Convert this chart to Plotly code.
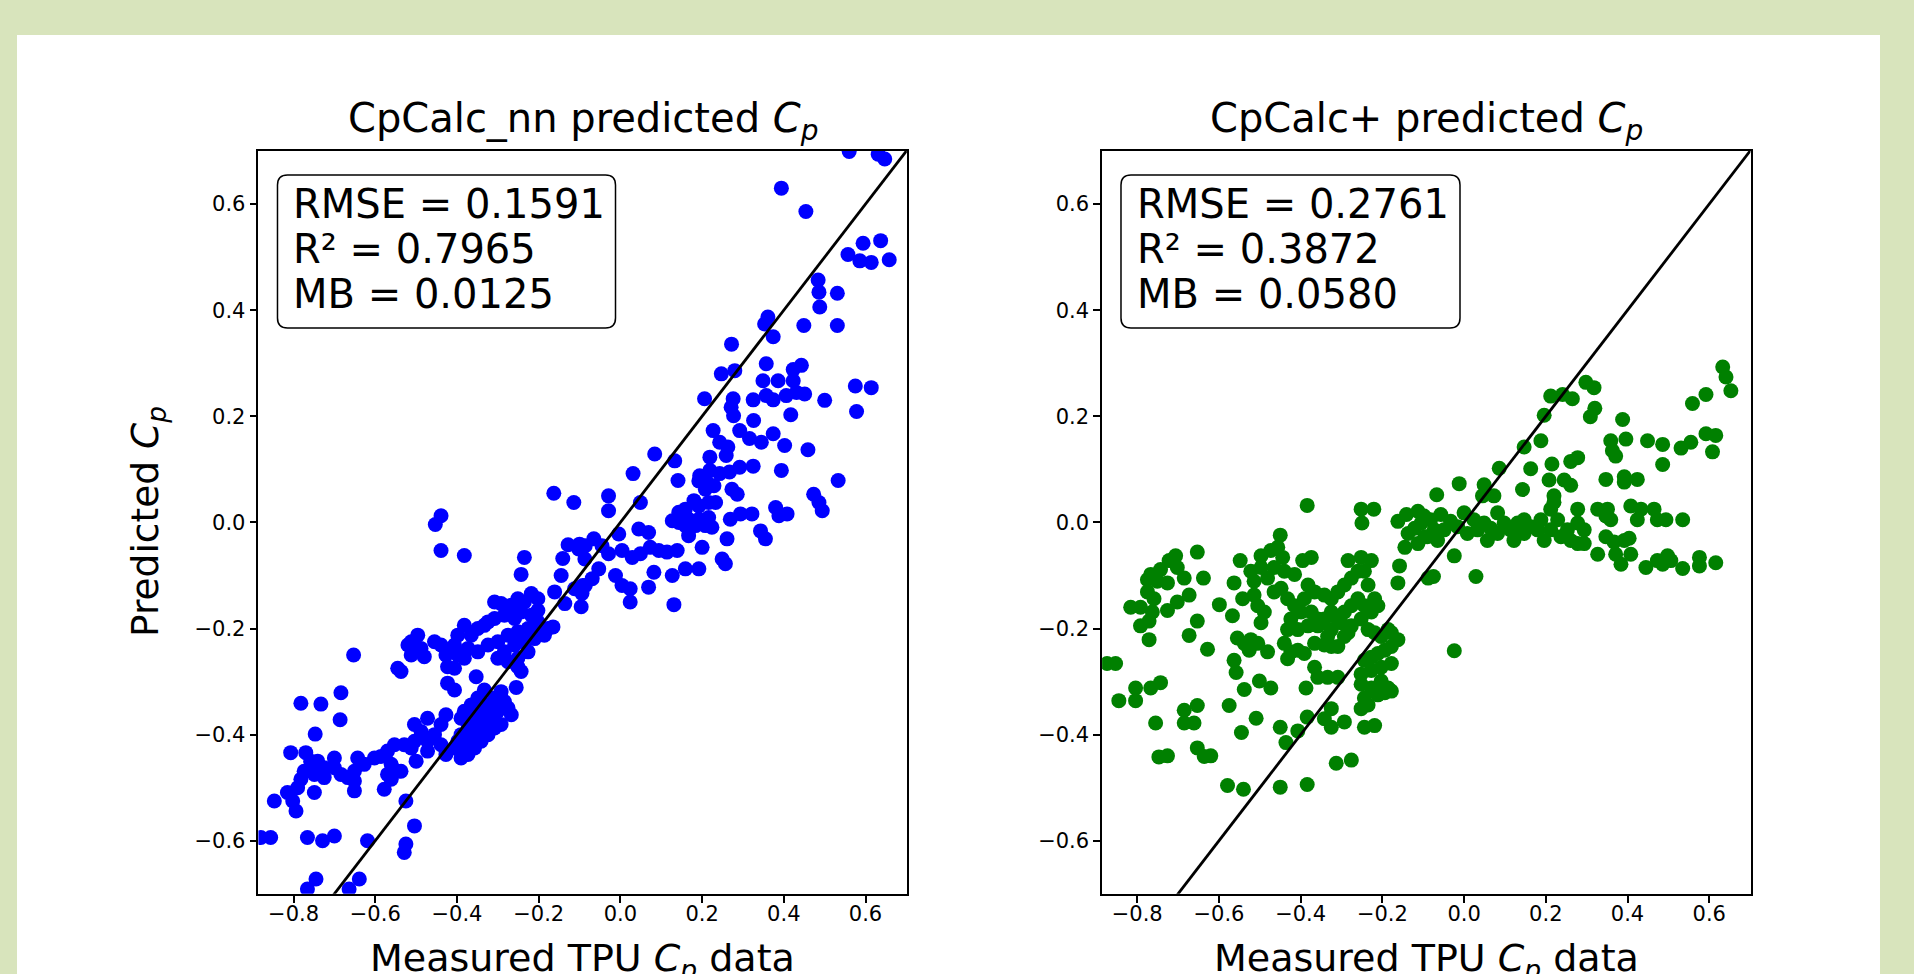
import plotly.graph_objects as go

# ---------------- data ----------------
nn_measured = [
    -0.163, -0.114, -0.439, -0.453, -0.439, -0.382, -0.235, -0.243, -0.128, -0.100, -0.141, -0.145, -0.087, -0.112,
    -0.092, -0.161, -0.136, -0.096, -0.218, -0.202, -0.235, -0.251, -0.267, -0.292, -0.308, -0.202, -0.218, -0.243,
    -0.259, -0.284, -0.308, -0.324, -0.333, -0.349, -0.365, -0.382, -0.398, -0.406, -0.373, -0.349, -0.324, -0.300,
    -0.275, -0.251, -0.226, -0.202, -0.194, -0.210, -0.235, -0.259, -0.284, -0.300, -0.275, -0.251, -0.226, -0.177,
    -0.165, -0.186, -0.496, -0.512, -0.520, -0.512, -0.488, -0.480, -0.455, -0.439, -0.427, -0.414, -0.398, -0.382,
    -0.423, -0.406, -0.653, -0.545, -0.537, -0.353, -0.243, -0.251, -0.423, -0.406, -0.255, -0.333, -0.349, -0.365,
    -0.382, -0.390, -0.373, -0.357, -0.341, -0.324, -0.308, -0.292, -0.284, -0.300, -0.316, -0.333, -0.349, -0.365,
    -0.382, -0.373, -0.357, -0.341, -0.324, -0.308, -0.292, -0.267, -0.275, -0.390, -0.398, -0.406, -0.390, -0.427,
    -0.427, -0.439, -0.472, -0.504, -0.488, -0.472, -0.455, -0.439, -0.504, -0.512, -0.529, -0.553, -0.570, -0.586,
    -0.602, -0.561, -0.545, -0.570, -0.561, -0.537, -0.500, -0.472, -0.782, -0.733, -0.684, -0.686, -0.747, -0.807,
    -0.770, -0.758, -0.774, -0.741, -0.725, -0.700, -0.700, -0.684, -0.667, -0.651, -0.643, -0.627, -0.651, -0.651,
    -0.725, -0.749, -0.782, -0.790, -0.815, -0.847, -0.802, -0.794, -0.749, -0.578, -0.525, -0.504, -0.525, -0.529,
    -0.880, -0.856, -0.766, -0.729, -0.700, -0.619, -0.745, -0.766, -0.639, -0.664,
    0.192, 0.212, 0.229, 0.208, 0.273, 0.286, 0.473, 0.486, 0.494, 0.380, 0.388, 0.408, 0.322, 0.294,
    0.269, 0.261, 0.343, 0.355, 0.200, 0.249, 0.257, 0.143, 0.127, 0.159, 0.180, 0.192, 0.216, 0.233,
    0.167, 0.192, 0.216, 0.208, 0.224, 0.184, 0.159, 0.167, 0.143, -0.029, -0.029, 0.049, 0.045, 0.069,
    -0.004, -0.065, -0.045, -0.086, -0.102, -0.029, 0.004, 0.029, 0.049, 0.073, 0.094, 0.114, 0.139, 0.082,
    0.127, 0.159, 0.192, -0.053, -0.069, -0.086, -0.094, -0.012, 0.004, 0.024, 0.024, 0.069, 0.131,
    0.560, 0.631, 0.647, 0.394, 0.454, 0.594, 0.637, 0.557, 0.586, 0.614, 0.658, 0.484, 0.486, 0.488,
    0.531, 0.361, 0.353, 0.374, 0.449, 0.531, 0.272, 0.247, 0.280, 0.357, 0.423, 0.443, 0.349, 0.386,
    0.423, 0.206, 0.276, 0.271, 0.277, 0.325, 0.357, 0.374, 0.406, 0.431, 0.451, 0.500, 0.575, 0.614,
    0.578, 0.417, 0.326, 0.227, 0.292, 0.316, 0.345, 0.374, 0.402, 0.459, 0.243, 0.263, 0.219, 0.259,
    0.084, 0.133, 0.031, 0.141, 0.194, 0.219, 0.243, 0.267, 0.292, 0.325, 0.394, 0.533,
]
nn_predicted = [
    0.055, 0.0375, 0.0125, -0.004, -0.053, -0.0625, -0.066, -0.098, -0.042, -0.041, -0.068, -0.100, -0.069, -0.125,
    -0.119, -0.131, -0.153, -0.159, -0.134, -0.144, -0.150, -0.144, -0.156, -0.153, -0.150, -0.166, -0.175, -0.169,
    -0.181, -0.175, -0.181, -0.1875, -0.194, -0.200, -0.2125, -0.194, -0.2125, -0.231, -0.2375, -0.244, -0.231, -0.225,
    -0.2125, -0.206, -0.200, -0.1875, -0.206, -0.219, -0.225, -0.231, -0.244, -0.256, -0.2625, -0.256, -0.244, -0.200,
    -0.197, -0.2125, -0.2125, -0.225, -0.231, -0.250, -0.2375, -0.253, -0.225, -0.231, -0.250, -0.244, -0.250, -0.256,
    -0.272, -0.275, -0.250, -0.275, -0.281, -0.291, -0.281, -0.272, -0.303, -0.316, -0.311, -0.316, -0.331, -0.344,
    -0.356, -0.369, -0.381, -0.369, -0.356, -0.344, -0.331, -0.319, -0.3375, -0.356, -0.369, -0.381, -0.394, -0.406,
    -0.419, -0.4375, -0.425, -0.4125, -0.400, -0.3875, -0.381, -0.3625, -0.350, -0.400, -0.4125, -0.425, -0.444, -0.4375,
    -0.3625, -0.381, -0.369, -0.381, -0.394, -0.4125, -0.400, -0.419, -0.4125, -0.425, -0.419, -0.419, -0.431, -0.441,
    -0.444, -0.456, -0.469, -0.475, -0.484, -0.469, -0.450, -0.431, -0.341, -0.3425, -0.321, -0.372, -0.399, -0.434,
    -0.434, -0.450, -0.469, -0.450, -0.4625, -0.444, -0.4625, -0.475, -0.481, -0.469, -0.444, -0.456, -0.4875, -0.506,
    -0.481, -0.475, -0.484, -0.500, -0.509, -0.525, -0.525, -0.544, -0.509, -0.503, -0.525, -0.572, -0.606, -0.622,
    -0.594, -0.594, -0.594, -0.600, -0.591, -0.600, -0.672, -0.691, -0.672, -0.691,
    0.078, 0.075, 0.069, 0.0625, 0.0625, 0.053, 0.053, 0.0375, 0.022, 0.028, 0.0125, 0.016, 0.016, 0.016,
    0.006, -0.031, -0.016, -0.031, -0.047, -0.069, -0.078, 0.019, 0.003, 0.025, 0.041, 0.031, 0.0375, 0.0375,
    0.006, 0.006, 0.009, -0.006, -0.009, -0.006, -0.006, -0.025, 0.000, 0.050, 0.022, 0.0375, -0.0125, -0.019,
    -0.022, -0.031, -0.044, -0.044, -0.050, -0.059, -0.053, -0.066, -0.059, -0.047, -0.053, -0.056, -0.053, -0.094,
    -0.100, -0.0875, -0.0875, -0.0875, -0.106, -0.119, -0.134, -0.100, -0.119, -0.125, -0.150, -0.122, -0.155,
    0.699, 0.694, 0.685, 0.630, 0.586, 0.526, 0.531, 0.505, 0.493, 0.490, 0.495, 0.457, 0.434, 0.406,
    0.432, 0.387, 0.374, 0.350, 0.371, 0.371, 0.336, 0.280, 0.286, 0.299, 0.288, 0.296, 0.267, 0.267,
    0.267, 0.233, 0.233, 0.217, 0.201, 0.231, 0.239, 0.231, 0.239, 0.245, 0.242, 0.230, 0.257, 0.254,
    0.209, 0.203, 0.192, 0.173, 0.173, 0.158, 0.151, 0.167, 0.145, 0.137, 0.151, 0.142, 0.123, 0.126,
    0.129, 0.116, 0.092, 0.079, 0.088, 0.098, 0.092, 0.095, 0.104, 0.106, 0.098, 0.079,
]

plus_measured = [
    -0.384, -0.252, -0.221, -0.250, -0.162, -0.141, -0.113, -0.105, -0.121, -0.137, -0.145, -0.113, -0.096, -0.158,
    -0.162, -0.088, -0.450, -0.548, -0.497, -0.473, -0.456, -0.444, -0.415, -0.395, -0.374,
    -0.706, -0.722, -0.702, -0.685, -0.743, -0.767, -0.775, -0.751, -0.726, -0.775, -0.759, -0.816, -0.792, -0.763,
    -0.771, -0.792, -0.771, -0.726, -0.702, -0.673, -0.653, -0.638, -0.653, -0.673, -0.628, -0.599, -0.567, -0.563,
    -0.542,
    -0.522, -0.514, -0.497, -0.481, -0.465, -0.440, -0.514, -0.505, -0.497, -0.489, -0.465, -0.448, -0.432, -0.415,
    -0.391, -0.382, -0.366, -0.342, -0.325, -0.309, -0.293, -0.276, -0.260, -0.284, -0.252, -0.227, -0.244, -0.235,
    -0.219, -0.227, -0.211, -0.244, -0.260, -0.276, -0.293, -0.309, -0.325, -0.342, -0.358, -0.374, -0.399, -0.424,
    -0.432, -0.407, -0.382, -0.358, -0.325, -0.301, -0.276, -0.252, -0.235, -0.219, -0.203, -0.186, -0.178, -0.555,
    -0.538, -0.522, -0.505, -0.481, -0.526, -0.440, -0.424, -0.407, -0.391, -0.432, -0.366, -0.342, -0.325, -0.309,
    -0.293, -0.284, -0.334,
    -0.244, -0.227, -0.211, -0.194, -0.178, -0.162, -0.178, -0.203, -0.227, -0.252, -0.252, -0.227, -0.203, -0.186,
    -0.178, -0.211, -0.244, -0.252, -0.235, -0.194, -0.366, -0.358, -0.334, -0.309, -0.387, -0.325, -0.342, -0.325,
    -0.293, -0.244, -0.219, -0.313, -0.276, -0.384, -0.407, -0.436, -0.450,
    -0.874, -0.853, -0.845, -0.804, -0.804, -0.767, -0.743, -0.755, -0.685, -0.653, -0.685, -0.661, -0.575, -0.545,
    -0.509, -0.538, -0.501, -0.473, -0.558, -0.563, -0.747, -0.726, -0.653, -0.636, -0.620, -0.579, -0.540, -0.450,
    -0.384,
    0.633, 0.641, 0.653, 0.592, 0.559, 0.298, 0.318, 0.320, 0.309, 0.212, 0.241, 0.265, 0.196, 0.388,
    0.188, 0.147, 0.359, 0.363, 0.396, 0.371, 0.449, 0.486, 0.486, 0.531, 0.555, 0.592, 0.616, 0.608,
    0.086, 0.163, 0.215, 0.261, 0.278, 0.208, 0.245, 0.261, 0.347, 0.392, 0.424, 0.392, -0.012, 0.049,
    0.073, 0.045, 0.143, -0.067, 0.220, 0.220, 0.212,
    -0.098, -0.082, -0.057, -0.033, -0.016, -0.049, -0.073, -0.090, -0.065, 0.000, 0.024, 0.049, 0.033, 0.008,
    0.057, 0.082, 0.098, 0.082, 0.114, 0.131, 0.122, 0.147, 0.163, 0.147, 0.180, 0.188, 0.196, 0.212,
    0.229, 0.237, 0.253, 0.261, 0.278, 0.278, 0.294, 0.294, 0.278, 0.327, 0.347, 0.359, 0.351, 0.408,
    0.433, 0.465, 0.424, 0.473, 0.494, 0.535, 0.347, 0.367, 0.392, 0.404, 0.371, 0.384, 0.408, 0.327,
    0.445, 0.473, 0.486, 0.498, 0.506, 0.535, 0.576, 0.576, 0.616, -0.024, -0.075, 0.029, -0.024, 0.065,
]
plus_predicted = [
    0.032, 0.025, 0.025, -0.001, 0.002, 0.015, 0.021, -0.001, -0.011, -0.021, -0.047, -0.040, -0.027, -0.082,
    -0.114, -0.105, -0.024, -0.072, -0.063, -0.053, -0.047, -0.066, -0.098, -0.072, -0.066,
    -0.063, -0.072, -0.085, -0.105, -0.089, -0.098, -0.108, -0.111, -0.114, -0.131, -0.144, -0.160, -0.160, -0.169,
    -0.186, -0.195, -0.221, -0.166, -0.150, -0.137, -0.056, -0.105, -0.186, -0.213, -0.239, -0.155, -0.176, -0.114,
    -0.144,
    -0.092, -0.111, -0.085, -0.105, -0.085, -0.092, -0.137, -0.157, -0.189, -0.169, -0.131, -0.124, -0.144, -0.157,
    -0.144, -0.118, -0.131, -0.137, -0.144, -0.131, -0.118, -0.105, -0.092, -0.072, -0.066, -0.072, -0.092, -0.118,
    -0.144, -0.169, -0.157, -0.157, -0.144, -0.157, -0.169, -0.182, -0.169, -0.182, -0.182, -0.169, -0.169, -0.182,
    -0.202, -0.202, -0.195, -0.195, -0.202, -0.189, -0.195, -0.182, -0.202, -0.208, -0.215, -0.202, -0.208, -0.218,
    -0.228, -0.221, -0.228, -0.244, -0.241, -0.228, -0.244, -0.241, -0.247, -0.257, -0.228, -0.231, -0.234, -0.234,
    -0.215, -0.208, -0.215,
    -0.260, -0.254, -0.247, -0.241, -0.234, -0.221, -0.266, -0.273, -0.279, -0.286, -0.305, -0.312, -0.299, -0.312,
    -0.318, -0.325, -0.331, -0.351, -0.344, -0.321, -0.273, -0.292, -0.292, -0.292, -0.312, -0.351, -0.370, -0.386,
    -0.376, -0.386, -0.383, -0.454, -0.448, -0.367, -0.393, -0.415, -0.386,
    -0.266, -0.266, -0.336, -0.336, -0.312, -0.312, -0.302, -0.378, -0.354, -0.345, -0.378, -0.378, -0.345, -0.396,
    -0.369, -0.315, -0.299, -0.312, -0.283, -0.260, -0.442, -0.440, -0.425, -0.441, -0.440, -0.496, -0.503, -0.499,
    -0.494,
    0.293, 0.274, 0.248, 0.241, 0.224, 0.264, 0.254, 0.215, 0.199, 0.238, 0.241, 0.233, 0.202, 0.194,
    0.154, 0.142, 0.154, 0.135, 0.157, 0.125, 0.154, 0.147, 0.109, 0.140, 0.151, 0.167, 0.164, 0.133,
    0.102, 0.101, 0.110, 0.115, 0.122, 0.080, 0.080, 0.070, 0.081, 0.086, 0.081, 0.076, 0.073, 0.071,
    0.050, 0.050, 0.062, 0.052, 0.050, 0.038, 0.025,
    0.012, 0.005, 0.015, 0.002, -0.008, -0.014, -0.014, -0.027, -0.034, 0.018, 0.005, -0.001, -0.014, -0.021,
    -0.034, 0.018, -0.001, -0.021, -0.014, -0.001, -0.034, 0.005, -0.008, -0.021, -0.014, 0.005, -0.034, -0.014,
    0.005, -0.027, -0.014, -0.034, -0.001, 0.025, -0.014, -0.040, -0.040, 0.025, 0.012, 0.005, 0.025, 0.031,
    0.025, 0.025, 0.005, 0.005, 0.005, 0.005, -0.027, -0.037, -0.034, -0.030, -0.060, -0.079, -0.060, -0.060,
    -0.085, -0.072, -0.079, -0.063, -0.072, -0.087, -0.066, -0.082, -0.076, -0.063, -0.102, -0.102, -0.242, -0.011,
]

identity_line = [-1.0, 1.0]
tick_values = [-0.8, -0.6, -0.4, -0.2, 0.0, 0.2, 0.4, 0.6]
y_tick_values = [-0.6, -0.4, -0.2, 0.0, 0.2, 0.4, 0.6]

titles = ["CpCalc_nn predicted <i>C</i><sub><i>p</i></sub>", "CpCalc+ predicted <i>C</i><sub><i>p</i></sub>"]
x_label = "Measured TPU <i>C</i><sub><i>p</i></sub> data"
y_label = "Predicted <i>C</i><sub><i>p</i></sub>"
stats_nn = ["RMSE = 0.1591", "R² = 0.7965", "MB = 0.0125"]
stats_plus = ["RMSE = 0.2761", "R² = 0.3872", "MB = 0.0580"]

# ---------------- layout geometry (pixels) ----------------
W, H = 1914, 974
FONT = "DejaVu Sans"
TITLE_SIZE = 40
BOX_SIZE = 40
LABEL_SIZE = 38
TICK = 21


def px(x):
    return x / W


def py(y):
    return 1 - y / H


ax_left = (258.4, 906.8)
ax_right = (1102.1, 1750.5)
ax_top, ax_bottom = 151.0, 893.8
x_range = [-0.886, 0.701]
y_range = [-0.7, 0.7]

fig = go.Figure()

fig.add_trace(go.Scatter(x=nn_measured, y=nn_predicted, mode="markers",
                         marker=dict(color="blue", size=15, line=dict(width=0)),
                         xaxis="x", yaxis="y", showlegend=False))
fig.add_trace(go.Scatter(x=identity_line, y=identity_line, mode="lines",
                         line=dict(color="black", width=2.8),
                         xaxis="x", yaxis="y", showlegend=False))
fig.add_trace(go.Scatter(x=plus_measured, y=plus_predicted, mode="markers",
                         marker=dict(color="green", size=15, line=dict(width=0)),
                         xaxis="x2", yaxis="y2", showlegend=False))
fig.add_trace(go.Scatter(x=identity_line, y=identity_line, mode="lines",
                         line=dict(color="black", width=2.8),
                         xaxis="x2", yaxis="y2", showlegend=False))

axis_common = dict(
    range=x_range, showgrid=False, zeroline=False, showline=True, mirror=True,
    linecolor="black", linewidth=1.5, ticks="outside", ticklen=7, tickwidth=1.5,
    tickcolor="black", tickfont=dict(family=FONT, size=TICK, color="black"),
    tickformat=".1f",
)
yaxis_common = dict(axis_common)
yaxis_common.update(range=y_range, tickvals=y_tick_values)

xa = dict(axis_common); xa.update(domain=[px(ax_left[0]), px(ax_left[1])], tickvals=tick_values,
                                  anchor="y", ticklabelstandoff=-7)
xa2 = dict(axis_common); xa2.update(domain=[px(ax_right[0]), px(ax_right[1])], tickvals=tick_values,
                                    anchor="y2", ticklabelstandoff=-7)
ya = dict(yaxis_common); ya.update(domain=[py(ax_bottom), py(ax_top)], anchor="x")
ya2 = dict(yaxis_common); ya2.update(domain=[py(ax_bottom), py(ax_top)], anchor="x2")


def rounded_box(x0, y0, x1, y1, r):
    pts = [
        ("M", [(x0 + r, y0)]), ("L", [(x1 - r, y0)]), ("Q", [(x1, y0), (x1, y0 + r)]),
        ("L", [(x1, y1 - r)]), ("Q", [(x1, y1), (x1 - r, y1)]), ("L", [(x0 + r, y1)]),
        ("Q", [(x0, y1), (x0, y1 - r)]), ("L", [(x0, y0 + r)]), ("Q", [(x0, y0), (x0 + r, y0)]),
    ]
    s = ""
    for cmd, coords in pts:
        s += cmd + " " + " ".join(f"{px(a):.5f},{py(b):.5f}" for a, b in coords) + " "
    return s + "Z"


shapes = [
    dict(type="rect", xref="paper", yref="paper", x0=px(17), x1=px(1880), y0=-0.01, y1=py(35),
         fillcolor="white", line=dict(width=0), layer="below"),
    dict(type="path", xref="paper", yref="paper", path=rounded_box(277.5, 175, 615.5, 328, 10),
         fillcolor="white", line=dict(color="black", width=1.5), layer="above"),
    dict(type="path", xref="paper", yref="paper", path=rounded_box(1121, 175, 1460, 328, 10),
         fillcolor="white", line=dict(color="black", width=1.5), layer="above"),
]

annotations = []
centers = [(ax_left[0] + ax_left[1]) / 2, (ax_right[0] + ax_right[1]) / 2]
for cx, t in zip(centers, titles):
    annotations.append(dict(text=t, x=px(cx), y=py(121), xref="paper", yref="paper",
                            xanchor="center", yanchor="middle", showarrow=False,
                            font=dict(family=FONT, size=TITLE_SIZE, color="black")))
    annotations.append(dict(text=x_label, x=px(cx), y=py(960), xref="paper", yref="paper",
                            xanchor="center", yanchor="middle", showarrow=False,
                            font=dict(family=FONT, size=LABEL_SIZE, color="black")))

line_centers = [204, 249, 294]
for left_x, stats in ((291, stats_nn), (1134.5, stats_plus)):
    for yc, s in zip(line_centers, stats):
        annotations.append(dict(text=s, x=px(left_x), y=py(yc), xref="paper", yref="paper",
                                xanchor="left", yanchor="middle", showarrow=False,
                                font=dict(family=FONT, size=BOX_SIZE, color="black")))

annotations.append(dict(text=y_label, x=px(147), y=py(522), xref="paper", yref="paper",
                        xanchor="center", yanchor="middle", textangle=-90, showarrow=False,
                        font=dict(family=FONT, size=37.5, color="black")))

fig.update_layout(
    width=W, height=H, margin=dict(l=0, r=0, t=0, b=0),
    paper_bgcolor="#d8e4bc", plot_bgcolor="white",
    xaxis=xa, yaxis=ya, xaxis2=xa2, yaxis2=ya2,
    shapes=shapes, annotations=annotations,
    font=dict(family=FONT, color="black"),
)

fig.write_html("out.html", config={"displayModeBar": False},
               post_script="document.body.style.margin='0';document.body.style.overflow='hidden';")
